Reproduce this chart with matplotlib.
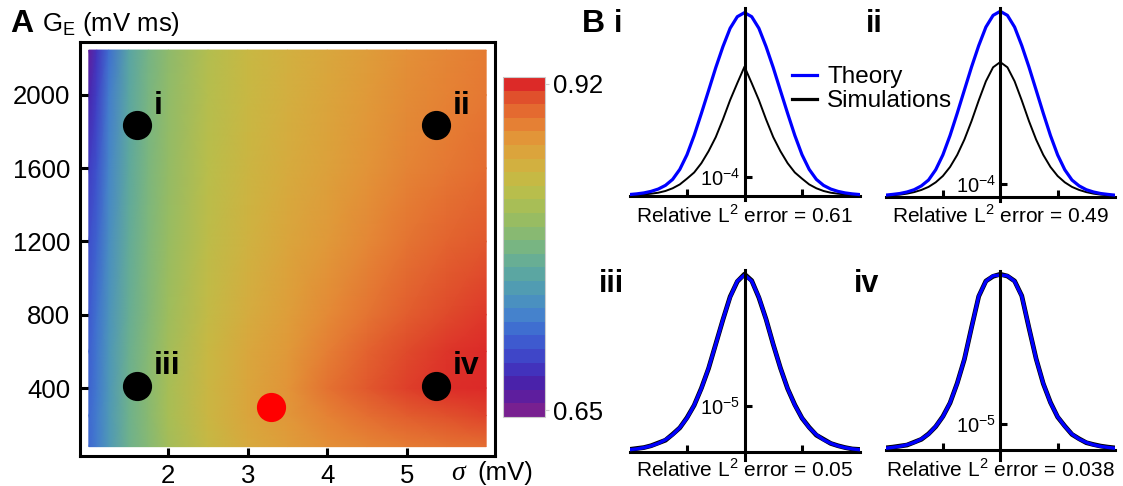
import numpy as np
import matplotlib
matplotlib.use("Agg")
import matplotlib.pyplot as plt
from matplotlib.colors import LinearSegmentedColormap, ListedColormap, Normalize
from matplotlib.lines import Line2D
import matplotlib.cm as cm

plt.rcParams['font.family'] = ['Liberation Sans', 'DejaVu Sans']

W, H = 1123, 486

# ---- panel A: overlap map ----
sigma_grid = [1.0, 1.1, 1.25, 1.5, 1.75, 2.0, 2.5, 3.0, 3.5, 4.0, 4.5, 5.0, 5.5, 6.0]
ge_grid = [80, 250, 400, 600, 800, 1200, 1600, 2000, 2245]
overlap = [
    [0.715, 0.725, 0.748, 0.778, 0.795, 0.815, 0.840, 0.858, 0.868, 0.877, 0.883, 0.888, 0.892, 0.895],
    [0.715, 0.725, 0.748, 0.778, 0.797, 0.818, 0.845, 0.862, 0.873, 0.885, 0.895, 0.903, 0.908, 0.912],
    [0.712, 0.723, 0.747, 0.778, 0.797, 0.818, 0.845, 0.863, 0.875, 0.893, 0.905, 0.913, 0.918, 0.920],
    [0.710, 0.722, 0.745, 0.776, 0.795, 0.815, 0.842, 0.860, 0.872, 0.887, 0.900, 0.910, 0.916, 0.920],
    [0.705, 0.720, 0.743, 0.773, 0.792, 0.812, 0.838, 0.856, 0.868, 0.880, 0.892, 0.903, 0.910, 0.915],
    [0.700, 0.712, 0.738, 0.770, 0.790, 0.808, 0.834, 0.850, 0.862, 0.872, 0.882, 0.892, 0.899, 0.905],
    [0.690, 0.702, 0.732, 0.766, 0.788, 0.805, 0.831, 0.846, 0.857, 0.866, 0.875, 0.884, 0.890, 0.896],
    [0.675, 0.692, 0.725, 0.762, 0.785, 0.802, 0.828, 0.843, 0.853, 0.862, 0.871, 0.879, 0.885, 0.890],
    [0.660, 0.685, 0.718, 0.760, 0.783, 0.800, 0.827, 0.842, 0.852, 0.860, 0.869, 0.877, 0.883, 0.888],
]
vmin, vmax = 0.65, 0.92

point_sigma = [1.61, 5.37, 1.61, 5.37]
point_ge = [1836, 1836, 412, 412]
point_labels = ['i', 'ii', 'iii', 'iv']
best_sigma = 3.29
best_ge = 298

band_colors = [
    '#782090', '#5e1e9e', '#4a22aa', '#4232bc', '#3f46c8', '#3e5acf', '#3f6ed0',
    '#4582cc', '#4a90c0', '#519cb2', '#5ba6a2', '#68ae94', '#78b582', '#88b972',
    '#98bc62', '#a8be56', '#b8be4c', '#c6b944', '#d2b040', '#dba43c', '#e29538',
    '#e58034', '#e46a30', '#e0502c', '#dc2a28',
]

# ---- panel B: distributions (x in units of the tick spacing) ----
dist_x = np.linspace(-2, 2, 33)
theory_i = np.array([0.076, 0.11, 0.16, 0.24, 0.36, 0.55, 0.86, 1.38, 2.14, 3.14, 4.28, 5.46, 6.65,
                     7.74, 8.69, 9.29, 9.50, 9.29, 8.69, 7.74, 6.65, 5.46, 4.28, 3.14, 2.14, 1.38,
                     0.86, 0.55, 0.36, 0.24, 0.16, 0.11, 0.076]) * 1e-4
sim_i = np.array([0.03, 0.05, 0.08, 0.12, 0.17, 0.26, 0.40, 0.60, 0.90, 1.22, 1.70, 2.32, 3.05,
                  3.97, 4.97, 5.85, 6.70, 5.85, 4.97, 3.97, 3.05, 2.32, 1.70, 1.22, 0.90, 0.60,
                  0.40, 0.26, 0.17, 0.12, 0.08, 0.05, 0.03]) * 1e-4
theory_ii = np.array([0.12, 0.18, 0.25, 0.37, 0.55, 0.85, 1.31, 2.12, 3.29, 4.82, 6.57, 8.40,
                      10.22, 11.90, 13.36, 14.28, 14.60, 14.28, 13.36, 11.90, 10.22, 8.40, 6.57,
                      4.82, 3.29, 2.12, 1.31, 0.85, 0.55, 0.37, 0.25, 0.18, 0.12]) * 1e-4
sim_ii = np.array([0.074, 0.11, 0.16, 0.24, 0.36, 0.53, 0.77, 1.13, 1.63, 2.34, 3.29, 4.50, 5.96,
                   7.58, 9.09, 10.19, 10.60, 10.19, 9.09, 7.58, 5.96, 4.50, 3.29, 2.34, 1.63,
                   1.13, 0.77, 0.53, 0.36, 0.24, 0.16, 0.11, 0.074]) * 1e-4
theory_iii = np.array([0.043, 0.061, 0.088, 0.127, 0.182, 0.260, 0.370, 0.523, 0.732, 1.013,
                       1.373, 1.818, 2.334, 2.875, 3.36, 3.71, 3.84, 3.71, 3.36, 2.875, 2.334,
                       1.818, 1.373, 1.013, 0.732, 0.523, 0.370, 0.260, 0.182, 0.127, 0.088,
                       0.061, 0.043]) * 1e-5
sim_iii = np.array([0.05, 0.07, 0.09, 0.13, 0.19, 0.25, 0.38, 0.52, 0.74, 1.01, 1.38, 1.81, 2.34,
                    2.87, 3.37, 3.70, 3.86, 3.72, 3.35, 2.88, 2.33, 1.82, 1.37, 1.02, 0.73, 0.53,
                    0.36, 0.27, 0.18, 0.13, 0.09, 0.06, 0.05]) * 1e-5
theory_iv = np.array([0.067, 0.10, 0.14, 0.20, 0.29, 0.42, 0.61, 0.91, 1.28, 1.82, 2.56, 3.50,
                      4.71, 5.92, 6.49, 6.70, 6.73, 6.70, 6.49, 5.92, 4.71, 3.50, 2.56, 1.82,
                      1.28, 0.91, 0.61, 0.42, 0.29, 0.20, 0.14, 0.10, 0.067]) * 1e-5
sim_iv = np.array([0.08, 0.11, 0.15, 0.19, 0.30, 0.41, 0.62, 0.90, 1.29, 1.81, 2.57, 3.49, 4.72,
                   5.91, 6.50, 6.68, 6.76, 6.69, 6.50, 5.93, 4.70, 3.51, 2.55, 1.83, 1.27, 0.92,
                   0.60, 0.43, 0.28, 0.21, 0.15, 0.11, 0.08]) * 1e-5
errors = ['0.61', '0.49', '0.05', '0.038']


def box(x0, y0, x1, y1):
    return [x0 / W, 1 - y1 / H, (x1 - x0) / W, (y1 - y0) / H]


fig = plt.figure(figsize=(W / 100, H / 100), dpi=100)

# ---- A ----
cmap = LinearSegmentedColormap.from_list('rainbow_m', band_colors)
ax = fig.add_axes(box(80, 42, 495, 456))
ax.pcolormesh(sigma_grid, ge_grid, np.array(overlap), shading='gouraud', cmap=cmap,
              vmin=vmin, vmax=vmax, rasterized=True)
ax.set_xlim(0.889, 6.111)
ax.set_ylim(29, 2289)
for s in ax.spines.values():
    s.set_linewidth(2.2)
ax.set_xticks([2, 3, 4, 5])
ax.set_yticks([400, 800, 1200, 1600, 2000])
ax.tick_params(direction='in', length=5.5, width=2.2, labelsize=18.5)
ax.tick_params(axis='y', pad=7)
ax.tick_params(axis='x', pad=5.5)
ax.plot(point_sigma, point_ge, 'o', color='black', ms=20, zorder=3)
ax.plot([best_sigma], [best_ge], 'o', color='#ff0000', ms=20, zorder=3)
for sx, gy, lab in zip(point_sigma, point_ge, point_labels):
    ax.annotate(lab, (sx, gy), xytext=(12, 14), textcoords='offset points',
                ha='left', va='center', fontsize=23, fontweight='bold')

# discrete colour bar: the end labels sit on the centres of the end bands
half_band = (vmax - vmin) / (len(band_colors) - 1) / 2
cax = fig.add_axes(box(503, 77, 545, 417))
sm = cm.ScalarMappable(norm=Normalize(vmin - half_band, vmax + half_band),
                       cmap=ListedColormap(band_colors))
cb = fig.colorbar(sm, cax=cax, ticks=[vmin, vmax])
cb.ax.set_yticklabels(['0.65', '0.92'])
cb.outline.set_edgecolor('#cccccc')
cb.outline.set_linewidth(0.8)
cb.ax.tick_params(length=3, width=0.8, color='#cccccc', labelsize=18.5, pad=3)

fig.text(10 / W, 1 - 24 / H, 'A', fontsize=23, fontweight='bold', va='center')
fig.text(42 / W, 1 - 24 / H, r'G$_\mathregular{E}$ (mV ms)', fontsize=18.5, va='center')
fig.text(458 / W, 1 - 473 / H, '\u03c3', fontsize=20, family='Liberation Serif',
         style='italic', ha='center', va='center')
fig.text(477 / W, 1 - 473 / H, '(mV)', fontsize=18.5, va='center')

# ---- B ----
panels = [
    (box(629.5, 8, 859.5, 200), (-0.207e-4, 9.74e-4), 1e-4, r'$\mathregular{10^{-4}}$', theory_i, sim_i, 215),
    (box(885.5, 8, 1115, 201), (-0.34e-4, 14.86e-4), 1e-4, r'$\mathregular{10^{-4}}$', theory_ii, sim_ii, 215),
    (box(629.5, 270, 859.5, 460), (-0.18e-5, 3.95e-5), 1e-5, r'$\mathregular{10^{-5}}$', theory_iii, sim_iii, 469),
    (box(885.5, 271, 1115, 460), (-0.385e-5, 6.885e-5), 1e-5, r'$\mathregular{10^{-5}}$', theory_iv, sim_iv, 469),
]
for k, (rect, ylim, ytick, ylab, th, sim, ty) in enumerate(panels):
    bx = fig.add_axes(rect)
    bx.patch.set_alpha(0)
    if k < 2:
        bx.plot(dist_x, sim, color='black', lw=1.4, zorder=2)
        bx.plot(dist_x, th, color='#0000ff', lw=2.3, zorder=3)
    else:
        bx.plot(dist_x, sim, color='black', lw=3.4, zorder=2)
        bx.plot(dist_x, th, color='#0000ff', lw=2.4, zorder=3)
    bx.set_xlim(-2, 2)
    bx.set_ylim(*ylim)
    for side in ['top', 'right']:
        bx.spines[side].set_visible(False)
    bx.spines['left'].set_position(('data', 0))
    bx.spines['bottom'].set_position(('data', 0))
    bx.spines['left'].set_linewidth(2.2)
    bx.spines['bottom'].set_linewidth(2.2)
    bx.spines['left'].set_zorder(4)
    bx.set_xticks([-1, 1])
    bx.set_xticklabels([])
    bx.set_yticks([ytick])
    bx.set_yticklabels([ylab])
    bx.tick_params(direction='in', length=5, width=2.2, labelsize=14.5, pad=3)
    cx = rect[0] + rect[2] / 2
    fig.text(cx, 1 - ty / H, 'Relative L$^\\mathregular{2}$ error = ' + errors[k],
             fontsize=15, ha='center', va='center')

fig.text(582 / W, 1 - 24 / H, 'B', fontsize=23, fontweight='bold', va='center')
fig.text(614 / W, 1 - 24 / H, 'i', fontsize=22, fontweight='bold', va='center')
fig.text(866 / W, 1 - 24 / H, 'ii', fontsize=22, fontweight='bold', va='center')
fig.text(599 / W, 1 - 284 / H, 'iii', fontsize=22, fontweight='bold', va='center')
fig.text(854 / W, 1 - 284 / H, 'iv', fontsize=22, fontweight='bold', va='center')

handles = [Line2D([], [], color='#0000ff', lw=2.3), Line2D([], [], color='black', lw=2.3)]
fig.legend(handles, ['Theory', 'Simulations'], loc='upper left',
           bbox_to_anchor=(792 / W, 1 - 66 / H), frameon=False, fontsize=17.5,
           borderpad=0, borderaxespad=0, handlelength=1.03, handletextpad=0.42,
           labelspacing=0.1)

fig.savefig('out.png', dpi=100)
